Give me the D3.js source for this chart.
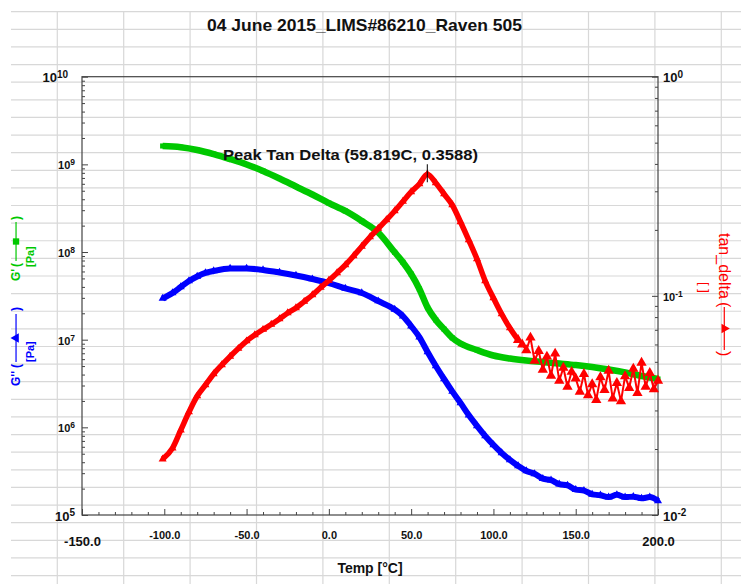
<!DOCTYPE html>
<html>
<head>
<meta charset="utf-8">
<script src="https://cdn.jsdelivr.net/npm/d3@7"></script>
<style>
body{margin:0;background:#fff}
text{font-family:Arial,"Liberation Sans",sans-serif}
</style>
</head>
<body>
<div id="chart"></div>
<script>
// G' storage modulus [Pa]
var gpTemp = [-101,-90,-80,-70,-60,-50,-40,-30,-20,-10,0,10,20,30,40,45,50,55,60,65,70,75,80,90,100,110,120,130,140,150,160,170,180,190,200]
var gpVal = [1.62e9,1.57e9,1.46e9,1.31e9,1.15e9,9.97e8,8.4e8,6.9e8,5.59e8,4.53e8,3.62e8,2.94e8,2.26e8,1.67e8,9.93e7,7.65e7,5.61e7,3.79e7,2.32e7,1.68e7,1.32e7,1.05e7,9.04e6,7.62e6,6.6e6,6.1e6,5.78e6,5.56e6,5.35e6,5.14e6,4.88e6,4.57e6,4.23e6,3.85e6,3.56e6]

// G'' loss modulus [Pa]
var gppTemp = [-101,-95,-90,-85,-80,-75,-70,-60,-50,-40,-30,-20,-10,0,10,20,30,40,45,50,55,60,65,70,75,80,85,90,95,100,105,110,115,120,125,130,135,140,145,150,155,160,165,170,175,180,185,190,195,200]
var gppVal = [2.95e7,3.41e7,3.99e7,4.67e7,5.26e7,5.77e7,6.08e7,6.49e7,6.49e7,6.24e7,5.84e7,5.4e7,4.92e7,4.43e7,3.84e7,3.41e7,2.76e7,2.21e7,1.86e7,1.43e7,1.07e7,7.24e6,5.01e6,3.56e6,2.57e6,1.9e6,1.38e6,1.04e6,7.98e5,6.3e5,5.1e5,4.25e5,3.63e5,3.18e5,2.95e5,2.6e5,2.5e5,2.25e5,2.18e5,1.95e5,1.9e5,1.72e5,1.68e5,1.6e5,1.7e5,1.6e5,1.62e5,1.55e5,1.6e5,1.45e5]

// tan delta, smooth part
var tdTemp = [-101,-95,-90,-85,-80,-75,-70,-65,-60,-55,-50,-45,-40,-35,-30,-25,-20,-15,-10,-5,0,5,10,15,20,25,30,35,40,45,50,55,59.819,65,70,75,80,85,90,95,100,105,110,115]
var tdVal = [0.0180,0.0202,0.0244,0.0295,0.0349,0.0392,0.0440,0.0484,0.0529,0.0575,0.0622,0.0663,0.0702,0.0740,0.0784,0.0835,0.0880,0.0942,0.1009,0.1092,0.1175,0.1272,0.1383,0.1520,0.1680,0.1855,0.2029,0.2219,0.2439,0.2695,0.2978,0.3239,0.3588,0.3273,0.2916,0.2598,0.2173,0.1798,0.1473,0.1169,0.0978,0.0826,0.0713,0.0629]
// tan delta, noisy high temperature part
var tdNoisyTemp = [115,117.5,120,122.5,125,127.5,130,132.5,135,137.5,140,142.5,145,147.5,150,152.5,155,157.5,160,162.5,165,167.5,170,172.5,175,177.5,180,182.5,185,187.5,190,192.5,195,197.5,200]
var tdNoisyVal = [0.0629,0.0600,0.0565,0.0645,0.0505,0.0560,0.0460,0.0528,0.0432,0.0545,0.0410,0.0470,0.0385,0.0450,0.0420,0.0365,0.0440,0.0352,0.0395,0.0335,0.0425,0.0372,0.0455,0.0340,0.0400,0.0330,0.0430,0.0380,0.0465,0.0360,0.0495,0.0385,0.0445,0.0375,0.0410]

var xMajor = [-150,-100,-50,0,50,100,150,200]
var leftMajor = [1e5,1e6,1e7,1e8,1e9,1e10]
var rightMajor = [0.01,0.1,1]
var peak = [59.819, 0.3588]

var width = 741, height = 584
var green = "#00c800", blue = "#0000ff", red = "#ff0000"

var svg = d3.select("#chart").append("svg")
  .attr("width", width).attr("height", height)

// spreadsheet cell grid behind the chart
var bg = svg.append("g").attr("stroke", "#d8d8d8").attr("stroke-width", 1.2)
for (var k = 0; k <= 10; k++) {
  var gx = 57.3 + 66.4 * k
  bg.append("line").attr("x1", gx).attr("x2", gx).attr("y1", 12).attr("y2", height)
}
for (var k = 0; k <= 32; k++) {
  var gy = 11.7 + 17.62 * k
  bg.append("line").attr("x1", 11).attr("x2", width).attr("y1", gy).attr("y2", gy)
}

var x = d3.scaleLinear().domain([-150, 200]).range([82, 658])
var yL = d3.scaleLog().domain([1e5, 1e10]).range([515, 76.7])
var yR = d3.scaleLog().domain([0.01, 1]).range([515, 76.7])

// frame
svg.append("rect").attr("x", 82).attr("y", 76.7).attr("width", 576).attr("height", 438.3)
  .attr("fill", "none").attr("stroke", "#444").attr("stroke-width", 1.2)

function minors(lo, hi) {
  var out = []
  for (var p = lo; p < hi; p++) for (var m = 2; m <= 9; m++) out.push(m * Math.pow(10, p))
  return out
}
function powLabel(sel) {
  sel.each(function(d) {
    var t = d3.select(this), e = Math.round(Math.log10(d))
    var big = (d == 1e5 || d == 1e10 || d == 0.01 || d == 1)
    t.text(null).attr("font-size", big ? 13 : 11).attr("font-weight", "bold").attr("fill", "#111")
    t.append("tspan").text("10")
    t.append("tspan").attr("dy", "-0.45em").attr("font-size", big ? 10 : 8.5).text(e)
  })
}

// bottom axis
var xMinor = d3.range(-140, 200, 10).filter(function(v) { return v % 50 != 0 })
svg.append("g").attr("transform", "translate(0,515)").attr("color", "#444")
  .call(d3.axisBottom(x).tickValues(xMinor).tickSize(-3).tickSizeOuter(0).tickFormat(""))
  .select(".domain").remove()
var xa = svg.append("g").attr("transform", "translate(0,515)").attr("color", "#444")
  .call(d3.axisBottom(x).tickValues(xMajor).tickSize(-6).tickSizeOuter(0).tickPadding(16)
    .tickFormat(function(d) { return d.toFixed(1) }))
xa.select(".domain").remove()
xa.selectAll("text").attr("fill", "#111").attr("font-size", 11).attr("font-weight", "bold")
  .attr("font-family", "Arial, Liberation Sans, sans-serif")
xa.selectAll("text").filter(function(d) { return d == -150 || d == 200 })
  .attr("font-size", 13).attr("y", 22)

// left axis
svg.append("g").attr("transform", "translate(82,0)").attr("color", "#444")
  .call(d3.axisLeft(yL).tickValues(minors(5, 10)).tickSize(-3).tickSizeOuter(0).tickFormat(""))
  .select(".domain").remove()
var la = svg.append("g").attr("transform", "translate(82,0)").attr("color", "#444")
  .call(d3.axisLeft(yL).tickValues(leftMajor).tickSize(-6).tickSizeOuter(0).tickPadding(7).tickFormat(""))
la.select(".domain").remove()
la.selectAll("text").attr("dy", "0.4em").call(powLabel)
la.selectAll("text").filter(function(d) { return d == 1e10 }).attr("x", -14)

// right axis
svg.append("g").attr("transform", "translate(658,0)").attr("color", "#444")
  .call(d3.axisRight(yR).tickValues(minors(-2, 0)).tickSize(-3).tickSizeOuter(0).tickFormat(""))
  .select(".domain").remove()
var ra = svg.append("g").attr("transform", "translate(658,0)").attr("color", "#444")
  .call(d3.axisRight(yR).tickValues(rightMajor).tickSize(-6).tickSizeOuter(0).tickPadding(5).tickFormat(""))
ra.select(".domain").remove()
ra.selectAll("text").attr("dy", "0.4em").call(powLabel)

// series
var gp = gpTemp.map(function(t, i) { return [t, gpVal[i]] })
var gpp = gppTemp.map(function(t, i) { return [t, gppVal[i]] })
var td = tdTemp.map(function(t, i) { return [t, tdVal[i]] })
var tdn = tdNoisyTemp.map(function(t, i) { return [t, tdNoisyVal[i]] })

function drawSeries(data, y, color, sym, size, lw, curve) {
  var line = d3.line().x(function(d) { return x(d[0]) }).y(function(d) { return y(d[1]) }).curve(curve)
  svg.append("path").datum(data).attr("d", line).attr("fill", "none")
    .attr("stroke", color).attr("stroke-width", lw).attr("stroke-linejoin", "round")
  svg.append("g").selectAll("path").data(data).join("path")
    .attr("d", d3.symbol(sym, size))
    .attr("transform", function(d) { return "translate(" + x(d[0]) + "," + y(d[1]) + ")" })
    .attr("fill", color)
}
drawSeries(gpp, yL, blue, d3.symbolTriangle, 28, 6, d3.curveMonotoneX)
drawSeries(gp, yL, green, d3.symbolSquare, 26, 6.5, d3.curveMonotoneX)
drawSeries(td, yR, red, d3.symbolTriangle, 28, 5.5, d3.curveMonotoneX)
drawSeries(tdn, yR, red, d3.symbolTriangle, 46, 2, d3.curveLinear)

// peak annotation
svg.append("line").attr("x1", x(peak[0])).attr("x2", x(peak[0]))
  .attr("y1", yR(peak[1]) - 10).attr("y2", yR(peak[1]) + 8)
  .attr("stroke", "#000").attr("stroke-width", 1)
svg.append("text").attr("x", 223).attr("y", 160)
  .attr("font-size", 14).attr("font-weight", "bold").attr("fill", "#111")
  .attr("textLength", 255).attr("lengthAdjust", "spacingAndGlyphs")
  .text("Peak Tan Delta (" + peak[0] + "C, " + peak[1] + ")")

// title
svg.append("text").attr("x", 364.5).attr("y", 31).attr("text-anchor", "middle")
  .attr("font-size", 17).attr("font-weight", "bold").attr("fill", "#111")
  .attr("textLength", 315).attr("lengthAdjust", "spacingAndGlyphs")
  .text("04 June 2015_LIMS#86210_Raven 505")

svg.append("text").attr("x", 370).attr("y", 573).attr("text-anchor", "middle")
  .attr("font-size", 14).attr("font-weight", "bold").attr("fill", "#111")
  .text("Temp [°C]")

// rotated axis titles with legend symbols
function axisTitle(tx, ty, rot, label, lab, color, fs, parts, sym) {
  var g = svg.append("g").attr("transform", "translate(" + tx + "," + ty + ") rotate(" + rot + ")")
    .attr("fill", color)
  g.append("text").attr("font-size", fs).attr("font-weight", lab).text(label)
  g.append("text").attr("x", parts[0]).attr("font-size", fs).attr("font-weight", lab).text("(")
  g.append("line").attr("x1", parts[1]).attr("x2", parts[2]).attr("y1", -fs * 0.33).attr("y2", -fs * 0.33)
    .attr("stroke", color).attr("stroke-width", 1.2)
  g.append("path").attr("d", d3.symbol(sym, 40))
    .attr("transform", "translate(" + (parts[1] + parts[2]) / 2 + "," + (-fs * 0.33) + ")")
  g.append("text").attr("x", parts[3]).attr("font-size", fs).attr("font-weight", lab).text(")")
}
axisTitle(20, 281, -90, "G'", "bold", green, 12, [14, 20, 59, 61], d3.symbolSquare)
axisTitle(20, 386, -90, "G''", "bold", blue, 12, [18, 24, 72, 75], d3.symbolTriangle)
axisTitle(719, 233, 90, "tan_delta", "normal", red, 16, [69, 74, 117, 118], d3.symbolTriangle)

svg.append("text").attr("transform", "translate(34,267) rotate(-90)")
  .attr("font-size", 11).attr("font-weight", "bold").attr("fill", green).text("[Pa]")
svg.append("text").attr("transform", "translate(34,362) rotate(-90)")
  .attr("font-size", 11).attr("font-weight", "bold").attr("fill", blue).text("[Pa]")
svg.append("text").attr("transform", "translate(700,282) rotate(90)")
  .attr("font-size", 13).attr("fill", red).text("[ ]")
</script>
</body>
</html>
